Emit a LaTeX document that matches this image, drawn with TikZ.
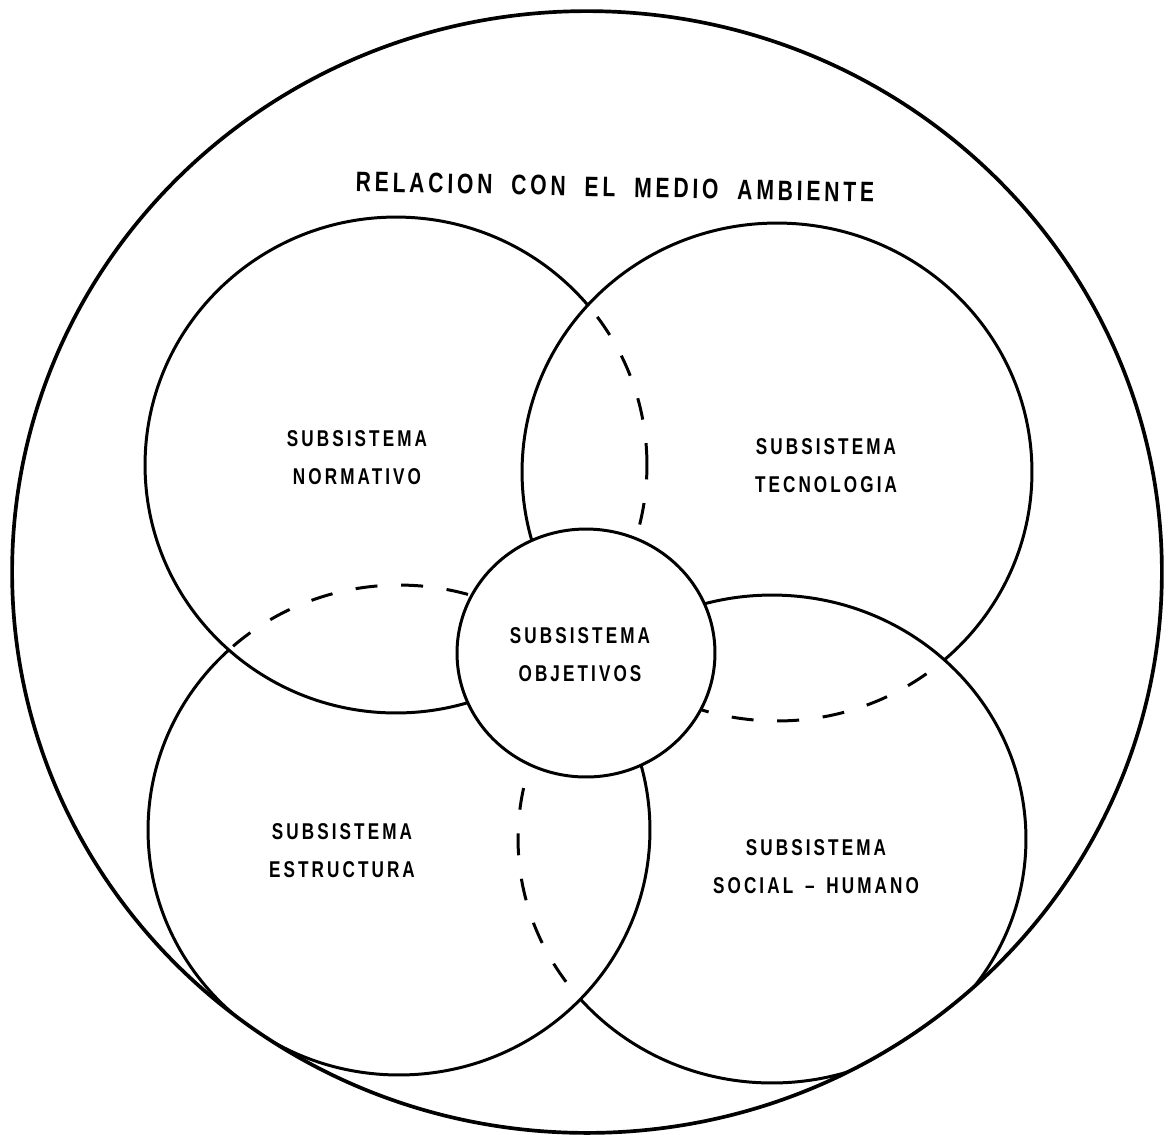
\documentclass[tikz,border=0pt]{standalone}
\usepackage{fontspec}
\setmainfont{Liberation Sans}
\newfontfamily\lblfont[LetterSpace=18]{Liberation Sans Bold}
\newcommand{\spaced}[1]{\scalebox{0.75}[1]{#1}}
\begin{document}
\begin{tikzpicture}[x=0.02cm,y=-0.02cm,
  ring/.style={line width=1.7pt},
  hidden/.style={line width=1.7pt, dash pattern=on 12.5pt off 13.5pt},
  outerring/.style={line width=2.1pt},
  lbl/.style={align=center, inner sep=0pt, font=\lblfont\fontsize{13}{21.5}\selectfont},
  biglbl/.style={inner sep=0pt, font=\lblfont\fontsize{16}{18}\selectfont},
]
\useasboundingbox (0,0) rectangle (1169,1134);
\fill[white] (0,0) rectangle (1169,1134);

\begin{scope}
  \clip (587,572) ellipse [x radius=11.5cm, y radius=11.22cm];

  % Normativo: solid outside Tecnologia, dashed inside it
  \begin{scope}[even odd rule]
    \clip (-300,-300) -- (1500,-300) -- (1500,1500) -- (-300,1500) -- cycle
      (777,472) ellipse [x radius=5.10cm, y radius=4.98cm];
    \draw[ring] (396,465) ellipse [x radius=5.02cm, y radius=4.96cm];
  \end{scope}
  \begin{scope}
    \clip (777,472) ellipse [x radius=5.10cm, y radius=4.98cm];
    \draw[hidden] (396,465) ellipse [x radius=5.02cm, y radius=4.96cm];
  \end{scope}

  % Tecnologia: solid outside Social, dashed inside it
  \begin{scope}[even odd rule]
    \clip (-300,-300) -- (1500,-300) -- (1500,1500) -- (-300,1500) -- cycle
      (772,839) ellipse [x radius=5.08cm, y radius=4.88cm];
    \draw[ring] (777,472) ellipse [x radius=5.10cm, y radius=4.98cm];
  \end{scope}
  \begin{scope}
    \clip (772,839) ellipse [x radius=5.08cm, y radius=4.88cm];
    \draw[hidden] (777,472) ellipse [x radius=5.10cm, y radius=4.98cm];
  \end{scope}

  % Social: solid outside Estructura, dashed inside it
  \begin{scope}[even odd rule]
    \clip (-300,-300) -- (1500,-300) -- (1500,1500) -- (-300,1500) -- cycle
      (399,830) ellipse [x radius=5.02cm, y radius=4.90cm];
    \draw[ring] (772,839) ellipse [x radius=5.08cm, y radius=4.88cm];
  \end{scope}
  \begin{scope}
    \clip (399,830) ellipse [x radius=5.02cm, y radius=4.90cm];
    \draw[hidden] (772,839) ellipse [x radius=5.08cm, y radius=4.88cm];
  \end{scope}

  % Estructura: solid outside Normativo, dashed inside it
  \begin{scope}[even odd rule]
    \clip (-300,-300) -- (1500,-300) -- (1500,1500) -- (-300,1500) -- cycle
      (396,465) ellipse [x radius=5.02cm, y radius=4.96cm];
    \draw[ring] (399,830) ellipse [x radius=5.02cm, y radius=4.90cm];
  \end{scope}
  \begin{scope}
    \clip (396,465) ellipse [x radius=5.02cm, y radius=4.96cm];
    \draw[hidden] (399,830) ellipse [x radius=5.02cm, y radius=4.90cm];
  \end{scope}
\end{scope}

% central circle on top
\draw[ring, fill=white] (586,653) ellipse [x radius=2.58cm, y radius=2.48cm];

% outer environment
\draw[outerring] (587,572) ellipse [x radius=11.5cm, y radius=11.22cm];

% labels
\node[biglbl, rotate=-1.2] (amb) at (615,187)
  {\spaced{RELACION\hspace{7pt} CON\hspace{7pt} EL\hspace{7pt} MEDIO\hspace{7pt} AMBIENTE}};
\node[lbl] (norm) at (357,458) {\spaced{SUBSISTEMA}\\\spaced{NORMATIVO}};
\node[lbl] (tec) at (826,466) {\spaced{SUBSISTEMA}\\\spaced{TECNOLOGIA}};
\node[lbl] (obj) at (580,655) {\spaced{SUBSISTEMA}\\\spaced{OBJETIVOS}};
\node[lbl] (est) at (342,851) {\spaced{SUBSISTEMA}\\\spaced{ESTRUCTURA}};
\node[lbl] (soc) at (816,867) {\spaced{SUBSISTEMA}\\\spaced{SOCIAL\hspace{3pt} – \hspace{3pt}HUMANO}};
\end{tikzpicture}
\end{document}
